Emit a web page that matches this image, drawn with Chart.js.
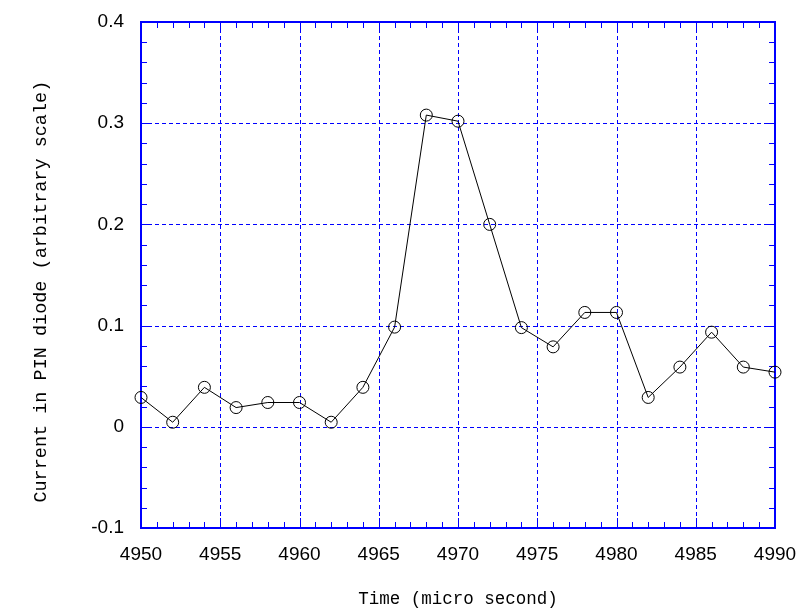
<!DOCTYPE html>
<html>
<head>
<meta charset="utf-8">
<script src="https://cdn.jsdelivr.net/npm/chart.js@4"></script>
<style>
  html, body { margin: 0; padding: 0; background: #ffffff; }
  #wrap { width: 811px; height: 615px; position: relative; }
</style>
</head>
<body>
<div id="wrap"><canvas id="c" width="811" height="615"></canvas></div>
<script>
// ---- data ----
const timeValues = [4950, 4952, 4954, 4956, 4958, 4960, 4962, 4964, 4966, 4968, 4970,
                    4972, 4974, 4976, 4978, 4980, 4982, 4984, 4986, 4988, 4990];
const currentValues = [0.029, 0.0045, 0.039, 0.019, 0.024, 0.024, 0.0045, 0.039, 0.0985, 0.308, 0.302,
                       0.200, 0.098, 0.079, 0.113, 0.113, 0.029, 0.059, 0.0935, 0.059, 0.054];
const xTickValues = [4950, 4955, 4960, 4965, 4970, 4975, 4980, 4985, 4990];
const yTickValues = [-0.1, 0, 0.1, 0.2, 0.3, 0.4];
const xTitle = 'Time (micro second)';
const yTitle = 'Current in PIN diode (arbitrary scale)';

const BLUE = '#0000ff';

const frame = {
  id: 'frame',
  beforeDatasetsDraw(chart) {
    const { ctx, chartArea: a, scales: { x, y } } = chart;
    ctx.save();
    // dashed grid at the major tick positions (taken from the scales' ticks)
    ctx.strokeStyle = BLUE;
    ctx.lineWidth = 1;
    ctx.setLineDash([4, 3]);
    ctx.beginPath();
    x.ticks.forEach(t => {
      const px = Math.round(x.getPixelForValue(t.value)) + 0.5;
      ctx.moveTo(px, a.top); ctx.lineTo(px, a.bottom);
    });
    y.ticks.forEach(t => {
      const py = Math.round(y.getPixelForValue(t.value)) + 0.5;
      ctx.moveTo(a.left, py); ctx.lineTo(a.right, py);
    });
    ctx.stroke();
    ctx.setLineDash([]);
    // inside minor / major tick marks on all four sides
    ctx.beginPath();
    for (let v = x.min; v <= x.max + 1e-9; v += 1) {
      const px = Math.round(x.getPixelForValue(v)) + 0.5;
      const len = (Math.abs(v % 5) < 1e-6) ? 10 : 6;
      ctx.moveTo(px, a.bottom); ctx.lineTo(px, a.bottom - len);
      ctx.moveTo(px, a.top); ctx.lineTo(px, a.top + len);
    }
    for (let i = 0; i <= 25; i++) {
      const v = y.min + i * 0.02;
      const py = Math.round(y.getPixelForValue(v)) + 0.5;
      const len = (i % 5 === 0) ? 10 : 6;
      ctx.moveTo(a.left, py); ctx.lineTo(a.left + len, py);
      ctx.moveTo(a.right, py); ctx.lineTo(a.right - len, py);
    }
    ctx.stroke();
    ctx.lineWidth = 2;
    ctx.strokeRect(a.left, a.top, a.right - a.left, a.bottom - a.top);
    ctx.restore();
  }
};

function noPad(s) { s.paddingTop = 0; s.paddingBottom = 0; s.paddingLeft = 0; s.paddingRight = 0; }

new Chart(document.getElementById('c'), {
  type: 'line',
  data: {
    datasets: [{
      data: timeValues.map((t, i) => ({ x: t, y: currentValues[i] })),
      borderColor: '#000000',
      borderWidth: 1,
      backgroundColor: 'rgba(0,0,0,0)',
      pointStyle: 'circle',
      pointRadius: 6,
      pointBorderWidth: 1,
      pointBorderColor: '#000000',
      pointBackgroundColor: 'rgba(0,0,0,0)',
      tension: 0,
      clip: false
    }]
  },
  options: {
    responsive: false,
    animation: false,
    events: [],
    layout: { padding: { left: 0, top: 22, right: 36, bottom: 0 } },
    plugins: { legend: { display: false }, tooltip: { enabled: false } },
    scales: {
      x: {
        type: 'linear',
        min: 4950, max: 4990,
        afterBuildTicks: s => { s.ticks = xTickValues.map(v => ({ value: v })); },
        afterFit: s => { s.height = 87; noPad(s); },
        grid: { display: false, drawTicks: false },
        border: { display: false },
        ticks: { padding: 15, color: '#000000', font: { family: 'Liberation Sans', size: 19 }, maxRotation: 0,
                 callback: v => String(v) },
        title: { display: true, text: xTitle, color: '#000000',
                 font: { family: 'Liberation Mono', size: 17.5 }, padding: { top: 0, bottom: 5 } }
      },
      y: {
        type: 'linear',
        min: -0.1, max: 0.4,
        afterBuildTicks: s => { s.ticks = yTickValues.map(v => ({ value: v })); },
        afterFit: s => { s.width = 141; noPad(s); },
        grid: { display: false, drawTicks: false },
        border: { display: false },
        ticks: { padding: 17, color: '#000000', font: { family: 'Liberation Sans', size: 19 },
                 callback: v => String(Math.round(v * 10) / 10) },
        title: { display: true, text: yTitle + '   ', color: '#000000',
                 font: { family: 'Liberation Mono', size: 18.5 }, padding: { top: 30, bottom: 0 } }
      }
    }
  },
  plugins: [frame]
});
</script>
</body>
</html>
